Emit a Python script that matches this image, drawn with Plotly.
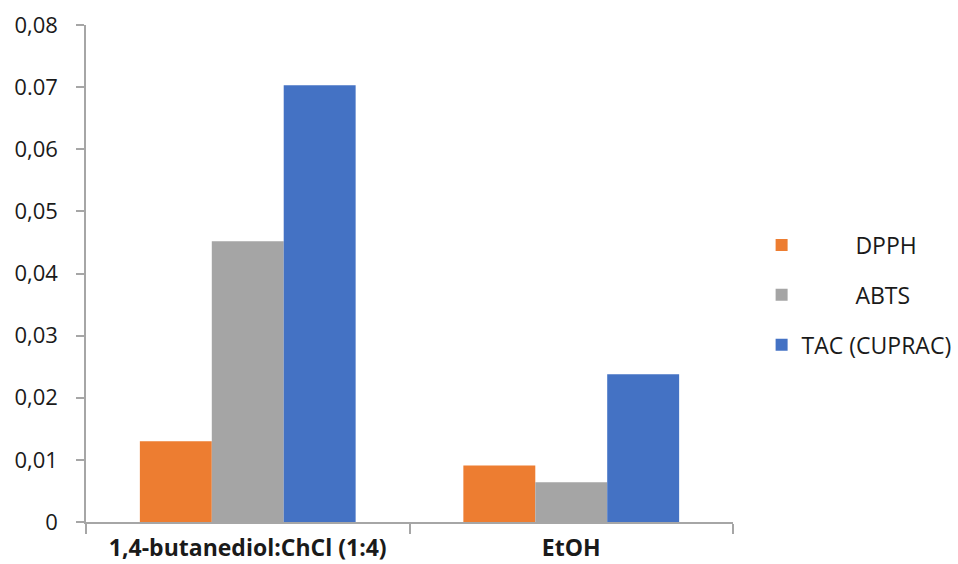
import plotly.graph_objects as go

# Solvent systems on the x axis
categories = ["1,4-butanediol:ChCl (1:4)", "EtOH"]

# Antioxidant assay results per solvent
dpph = [0.013, 0.0091]
abts = [0.0452, 0.0064]
tac_cuprac = [0.0703, 0.0238]

series_names = ["DPPH", "ABTS", "TAC (CUPRAC)"]
series_values = [dpph, abts, tac_cuprac]
series_colors = ["#ED7D31", "#A5A5A5", "#4472C4"]
# Legend label padding (non-breaking spaces keep the indent)
legend_pad = ["\u00a0" * 9, "\u00a0" * 9, ""]

y_tick_vals = [0, 0.01, 0.02, 0.03, 0.04, 0.05, 0.06, 0.07, 0.08]
y_tick_text = ["0", "0,01", "0,02", "0,03", "0,04", "0,05", "0,06", "0.07", "0,08"]

FONT = "Open Sans"
TEXT_COLOR = "#1a1a1a"
AXIS_COLOR = "#a6a6a6"

fig = go.Figure()
for i, (name, vals, color) in enumerate(zip(series_names, series_values, series_colors)):
    fig.add_trace(go.Bar(
        x=categories,
        y=vals,
        name=legend_pad[i] + name,
        marker=dict(color=color, line=dict(width=0)),
        legendgroup=f"g{i}",
    ))

fig.update_layout(
    width=958,
    height=564,
    margin=dict(l=86, r=225, t=25, b=42, autoexpand=False),
    paper_bgcolor="white",
    plot_bgcolor="white",
    barmode="group",
    bargap=0.333,
    bargroupgap=0,
    font=dict(family=FONT, size=22, color=TEXT_COLOR),
    showlegend=True,
    legend=dict(
        xref="container",
        yref="container",
        x=0.795,
        xanchor="left",
        y=1 - 295 / 564,
        yanchor="middle",
        traceorder="grouped",
        tracegroupgap=17,
        font=dict(family=FONT, size=23, color=TEXT_COLOR),
        bgcolor="rgba(0,0,0,0)",
    ),
    xaxis=dict(
        automargin=False,
        showline=True,
        linecolor=AXIS_COLOR,
        linewidth=1.5,
        ticks="outside",
        tickson="boundaries",
        ticklen=10,
        tickcolor=AXIS_COLOR,
        tickwidth=1.5,
        showgrid=False,
        tickfont=dict(family=FONT, size=23, color=TEXT_COLOR, weight="bold"),
        ticklabelstandoff=5,
    ),
    yaxis=dict(
        automargin=False,
        range=[0, 0.08],
        tickvals=y_tick_vals,
        ticktext=y_tick_text,
        showline=True,
        linecolor=AXIS_COLOR,
        linewidth=1.5,
        ticks="outside",
        ticklen=8,
        tickcolor=AXIS_COLOR,
        tickwidth=1.5,
        showgrid=False,
        zeroline=False,
        tickfont=dict(family=FONT, size=22, color=TEXT_COLOR),
        ticklabelstandoff=14,
    ),
)

fig.write_html("out.html")
